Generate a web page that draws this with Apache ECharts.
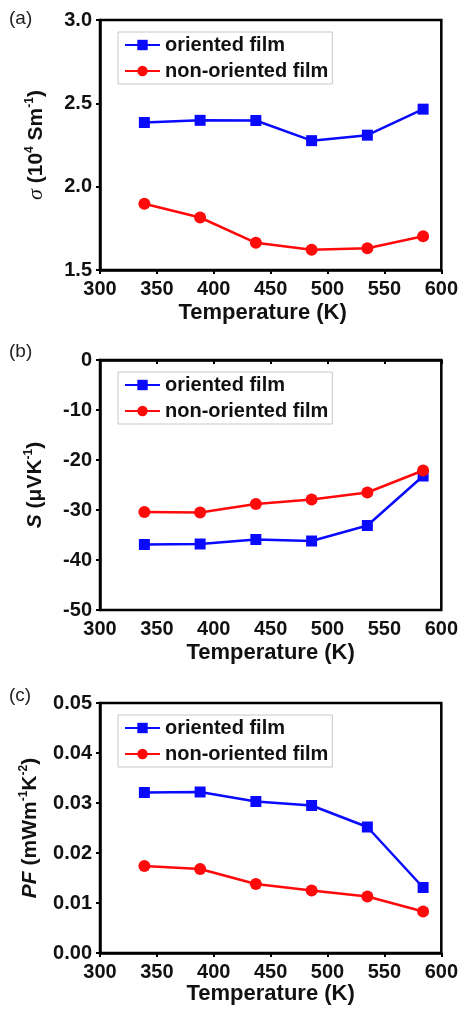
<!DOCTYPE html>
<html>
<head>
<meta charset="utf-8">
<script src="https://cdn.jsdelivr.net/npm/echarts@6/dist/echarts.min.js"></script>
<style>
html,body{margin:0;padding:0;background:#fff;}
#chart{width:461px;height:1009px;}
</style>
</head>
<body>
<div id="chart"></div>
<script>
// ---- data ----
var temperatures = [339, 388, 437, 486, 535, 584];
var seriesNames = ['oriented film', 'non-oriented film'];
var sigmaOriented = [2.385, 2.398, 2.397, 2.276, 2.309, 2.465];
var sigmaNonOriented = [1.898, 1.815, 1.663, 1.622, 1.630, 1.703];
var seebeckOriented = [-36.9, -36.8, -35.9, -36.2, -33.1, -23.2];
var seebeckNonOriented = [-30.4, -30.5, -28.8, -27.9, -26.5, -22.1];
var pfOriented = [0.0321, 0.0322, 0.0303, 0.0295, 0.0252, 0.0131];
var pfNonOriented = [0.0174, 0.0168, 0.0138, 0.0125, 0.0113, 0.0083];
var panelLabels = ['(a)', '(b)', '(c)'];
var xTitle = 'Temperature (K)';
var yTitles = [
  '{i|σ} {b|(10}{s|4}{b| Sm}{s|-1}{b|)}',
  '{bi|S} {b|(μVK}{s|-1}{b|)}',
  '{bi|PF} {b|(mWm}{s|-1}{b|K}{s|-2}{b|)}'
];
var yRanges = [[1.5, 3.0, 0.5], [-50, 0, 10], [0, 0.05, 0.01]];
var yDecimals = [1, 0, 2];

// ---- layout/style ----
var FONT = '"Liberation Sans", Arial, sans-serif';
var BLUE = '#0a0aff';
var RED = '#ff0a0a';
var gridTops = [20, 360, 703];
var gridH = 250;
var legendTops = [32, 372, 715];
var labelTops = [9, 342, 686];
var yNameGaps = [52, 53, 58];
var xNameGaps = [32, 32, 30];

function pairs(xs, ys) { return xs.map(function (x, i) { return [x, ys[i]]; }); }
var dataSets = [
  [sigmaOriented, sigmaNonOriented],
  [seebeckOriented, seebeckNonOriented],
  [pfOriented, pfNonOriented]
];

var option = {
  backgroundColor: '#fff',
  animation: false,
  textStyle: { fontFamily: FONT },
  grid: [], xAxis: [], yAxis: [], series: [], legend: [], graphic: []
};

for (var p = 0; p < 3; p++) {
  option.grid.push({
    left: 100, right: 19, top: gridTops[p], height: gridH,
    show: true, borderColor: '#000', borderWidth: 2.5, backgroundColor: 'transparent'
  });
  option.xAxis.push({
    type: 'value', gridIndex: p, min: 300, max: 600, interval: 50,
    axisLine: { show: true, lineStyle: { color: '#000', width: 2.5 } },
    axisTick: { show: true, inside: false, length: 4, lineStyle: { color: '#000', width: 2 } },
    splitLine: { show: false },
    axisLabel: { color: '#111', fontFamily: FONT, fontWeight: 'bold', fontSize: 20, margin: 9 },
    name: xTitle, nameLocation: 'middle', nameGap: xNameGaps[p],
    nameTextStyle: { color: '#111', fontFamily: FONT, fontWeight: 'bold', fontSize: 22,
      padding: p === 0 ? [0, 16, 0, 0] : 0 }
  });
  (function (dec) {
    option.yAxis.push({
      type: 'value', gridIndex: p, min: yRanges[p][0], max: yRanges[p][1], interval: yRanges[p][2],
      axisLine: { show: true, lineStyle: { color: '#000', width: 2.5 } },
      axisTick: { show: true, inside: false, length: 4, lineStyle: { color: '#000', width: 2 } },
      splitLine: { show: false },
      axisLabel: { color: '#111', fontFamily: FONT, fontWeight: 'bold', fontSize: 20, margin: 8,
        formatter: function (v) { return v.toFixed(dec); } },
      name: yTitles[p], nameLocation: 'middle', nameGap: yNameGaps[p], nameRotate: 90,
      nameTextStyle: {
        color: '#111', fontFamily: FONT, fontSize: 21,
        rich: {
          b: { fontFamily: FONT, fontSize: 21, fontWeight: 'bold', color: '#111', lineHeight: 24 },
          bi: { fontFamily: FONT, fontSize: 21, fontWeight: 'bold', fontStyle: 'italic', color: '#111', lineHeight: 24 },
          i: { fontFamily: '"Liberation Serif", serif', fontSize: 22, fontStyle: 'italic', color: '#111', lineHeight: 24 },
          s: { fontFamily: FONT, fontSize: 12, fontWeight: 'bold', color: '#111', verticalAlign: 'top', lineHeight: 24 }
        }
      }
    });
  })(yDecimals[p]);
  option.series.push({
    name: seriesNames[0], type: 'line', xAxisIndex: p, yAxisIndex: p,
    data: pairs(temperatures, dataSets[p][0]),
    symbol: 'rect', symbolSize: 11,
    lineStyle: { color: BLUE, width: 2.5 }, itemStyle: { color: BLUE }, z: 3
  });
  option.series.push({
    name: seriesNames[1], type: 'line', xAxisIndex: p, yAxisIndex: p,
    data: pairs(temperatures, dataSets[p][1]),
    symbol: 'circle', symbolSize: 12,
    lineStyle: { color: RED, width: 2.5 }, itemStyle: { color: RED }, z: 4
  });
  option.legend.push({
    data: seriesNames, orient: 'vertical', left: 118, top: legendTops[p],
    itemWidth: 35, itemHeight: 13, itemGap: 6,
    padding: [3, 4, 3, 6],
    borderColor: '#c8c8c8', borderWidth: 1, backgroundColor: '#fff',
    selectedMode: false,
    textStyle: { color: '#111', fontFamily: FONT, fontWeight: 'bold', fontSize: 20, lineHeight: 19 }
  });
  option.graphic.push({
    type: 'text', left: 9, top: labelTops[p],
    style: { text: panelLabels[p], fill: '#222', font: '19px ' + FONT }
  });
}

var chart = echarts.init(document.getElementById('chart'), null, { renderer: 'canvas' });
chart.setOption(option);
</script>
</body>
</html>
